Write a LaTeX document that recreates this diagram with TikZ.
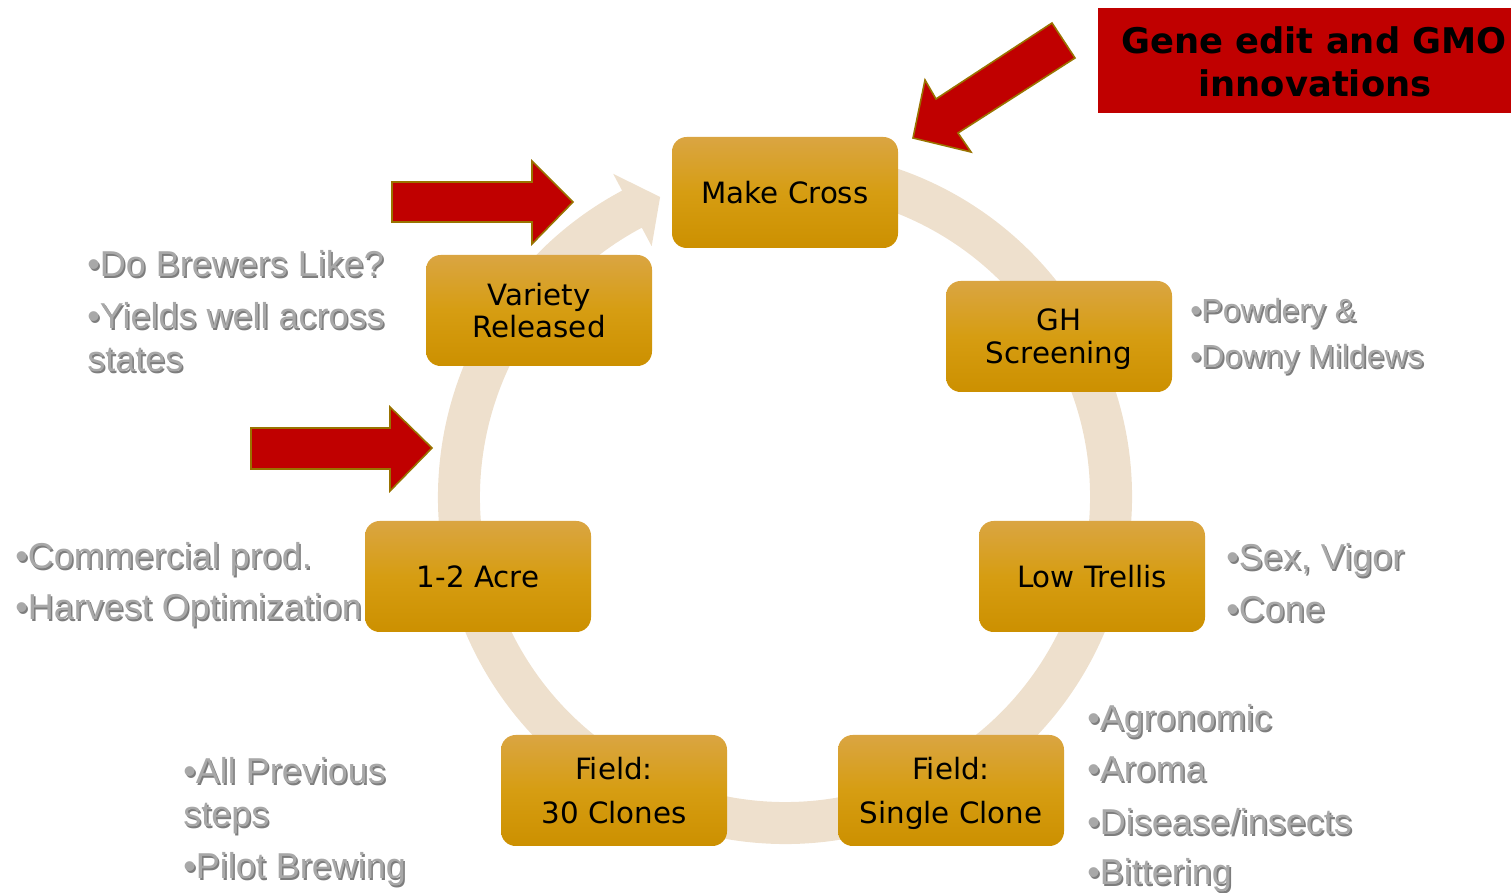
\documentclass[tikz,border=0pt]{standalone}
\usepackage{fontspec}
\newfontfamily\boxfont{DejaVu Sans}
\newfontfamily\grayfont{Liberation Sans}
\definecolor{ringcol}{RGB}{238,224,205}
\definecolor{redfill}{RGB}{192,0,0}
\definecolor{redline}{RGB}{153,115,0}
\definecolor{boxtop}{RGB}{218,165,66}
\definecolor{boxmid}{RGB}{214,157,18}
\definecolor{boxbot}{RGB}{204,144,0}
\definecolor{gtxtcol}{RGB}{168,168,168}
\definecolor{gshcol}{RGB}{125,125,125}
\tikzset{
  stepbox/.style={rounded corners=11pt, minimum width=169.5pt, minimum height=83.25pt,
    top color=boxtop, bottom color=boxbot, middle color=boxmid, draw=none,
    font=\boxfont\fontsize{22}{24}\selectfont, align=center, inner sep=0pt},
  gtxt/.style={anchor=base west, inner sep=0pt, text=gtxtcol, font=\grayfont\fontsize{27}{32}\selectfont},
  gshadow/.style={gtxt, text=gshcol},
  redarrow/.style={fill=redfill, draw=redline, line width=1.2pt, line join=miter},
  titlefont/.style={anchor=base, inner sep=0pt, font=\boxfont\bfseries\fontsize{26.5}{30}\selectfont}
}
\newcommand\gt[5][27]{%
  \node[gshadow, font=\grayfont\fontsize{#1}{32}\selectfont] at ({#3+1.6},{#4-1.6}) {#5};
  \node[gtxt, font=\grayfont\fontsize{#1}{32}\selectfont] (#2) at (#3,#4) {#5};}
\newcommand\nodepth[1]{\raisebox{0pt}[\height][0pt]{#1}}
\begin{document}
\begin{tikzpicture}[x=0.75pt,y=0.75pt]
\useasboundingbox (0,0) rectangle (1511,893);
% ring with arrow head
\begin{scope}[shift={(785,396)}]
\fill[ringcol] (80:347) arc[start angle=80, end angle=-242, radius=260.25pt]
  -- (-242:366) -- (-247.4:325) -- (-242:284) -- (-242:305)
  arc[start angle=-242, end angle=80, radius=228.75pt] -- cycle;
\end{scope}
% boxes
\node[stepbox] (cross) at (785,700.5) {Make Cross};
\node[stepbox, font=\boxfont\fontsize{22}{24.75}\selectfont] (gh) at (1059,556.5) {GH\\\nodepth{Screening}};
\node[stepbox] (trellis) at (1092,316.5) {Low Trellis};
\node[stepbox, font=\boxfont\fontsize{22}{33}\selectfont] (single) at (951,102.5) {Field:\\\nodepth{Single Clone}};
\node[stepbox, font=\boxfont\fontsize{22}{33}\selectfont] (thirty) at (614,102.5) {Field:\\30 Clones};
\node[stepbox] (acre) at (478,316.5) {1-2 Acre};
\node[stepbox] (variety) at (539,582.5) {Variety\\Released};
% red arrows
\draw[redarrow] (392,711) -- (532,711) -- (532,732) -- (573,691) -- (532,649) -- (532,671) -- (392,671) -- cycle;
\draw[redarrow] (251,465) -- (390,465) -- (390,486) -- (432,445) -- (390,402) -- (390,424) -- (251,424) -- cycle;
\draw[redarrow] (913,755) -- (925,813) -- (936,794) -- (1052,870) -- (1075,835) -- (958,760) -- (971,741) -- cycle;
% title box
\fill[redfill] (1098,885) rectangle (1515,780);
\node[titlefont] (title1) at (1314,839) {Gene edit and GMO};
\node[titlefont] (title2) at (1315,796) {innovations};
% gray notes
\gt{n1}{87}{616}{•Do Brewers Like?}
\gt{n2}{87}{564}{•Yields well across}
\gt{n3}{87}{521}{states}
\gt[24]{n4}{1190}{571}{•Powdery \&}
\gt[24]{n5}{1190}{525}{•Downy Mildews}
\gt{n6}{1226}{323}{•Sex, Vigor}
\gt{n7}{1226}{271}{•Cone}
\gt{n8}{15}{324}{•Commercial prod.}
\gt{n9}{15}{273}{•Harvest Optimization}
\gt{n10}{1087}{162}{•Agronomic}
\gt{n11}{1087}{111}{•Aroma}
\gt{n12}{1087}{58}{•Disease/insects}
\gt{n13}{1087}{8}{•Bittering}
\gt{n14}{183}{109}{•All Previous}
\gt{n15}{183}{66}{steps}
\gt{n16}{183}{14}{•Pilot Brewing}
\end{tikzpicture}
\end{document}
